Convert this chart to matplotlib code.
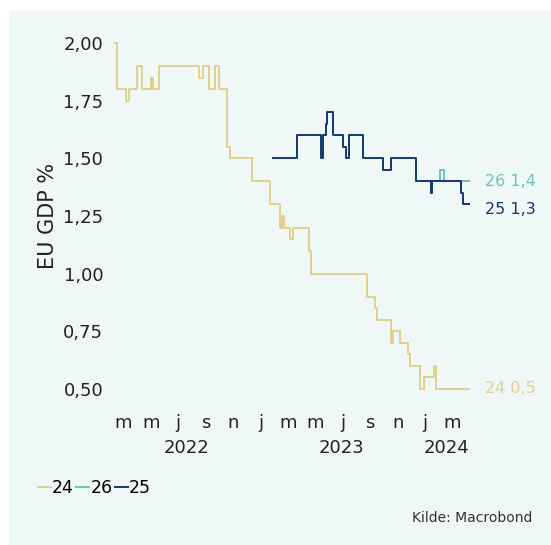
import matplotlib.pyplot as plt
from matplotlib.patches import Rectangle

# x = months since 1 Jan 2022, y = EU GDP forecast (%), changes drawn as steps
x24 = [1.9, 2.0, 2.69, 2.94, 3.49, 3.82, 4.49, 4.68, 5.07, 8.01, 8.33, 8.77, 9.18, 9.47,
       10.04, 10.28, 11.91, 13.20, 13.93, 14.05, 14.24, 14.66, 14.90, 16.04, 16.17,
       20.26, 20.86, 21.03, 22.01, 22.15, 22.64, 23.29, 23.42, 24.15, 24.39, 25.12,
       25.29, 27.74]
y24 = [2.00, 1.80, 1.75, 1.80, 1.90, 1.80, 1.85, 1.80, 1.90, 1.85, 1.90, 1.80, 1.90, 1.80,
       1.55, 1.50, 1.40, 1.30, 1.20, 1.25, 1.20, 1.15, 1.20, 1.10, 1.00,
       0.90, 0.85, 0.80, 0.70, 0.75, 0.70, 0.65, 0.60, 0.50, 0.55, 0.60,
       0.50, 0.50]

x26 = [25.0, 25.61, 25.85, 27.74]
y26 = [1.40, 1.45, 1.40, 1.40]

x25 = [13.44, 15.15, 16.92, 17.09, 17.26, 17.36, 17.82, 18.55, 18.74, 18.99, 19.96,
       21.42, 22.01, 23.83, 24.93, 25.02, 27.12, 27.26, 27.74]
y25 = [1.50, 1.60, 1.50, 1.60, 1.65, 1.70, 1.60, 1.55, 1.50, 1.60, 1.50,
       1.45, 1.50, 1.40, 1.35, 1.40, 1.35, 1.30, 1.30]

month_pos = [2.5, 4.5, 6.5, 8.5, 10.5, 12.5, 14.5, 16.5, 18.5, 20.5, 22.5, 24.5, 26.5]
month_lbl = ["m", "m", "j", "s", "n", "j", "m", "m", "j", "s", "n", "j", "m"]
year_pos = [7.07, 18.4, 26.1]
year_lbl = ["2022", "2023", "2024"]
yticks = [0.5, 0.75, 1.0, 1.25, 1.5, 1.75, 2.0]

c24 = "#e2d08c"
c26 = "#6cc5b0"
c25 = "#13386b"
bg = "#eff8f7"

fig = plt.figure(figsize=(5.51, 5.45), dpi=100)
fig.patch.set_facecolor("white")
fig.patches.append(Rectangle((9 / 551, 0), 1, (545 - 11) / 545, transform=fig.transFigure,
                             facecolor=bg, edgecolor="none", zorder=-10))

ax = fig.add_axes([113 / 551, 1 - 395.9 / 545, 360 / 551, (395.9 - 36.1) / 545])
ax.set_facecolor("none")

ax.plot(x24, y24, drawstyle="steps-post", color=c24, lw=1.4, label="24")
ax.plot(x26, y26, drawstyle="steps-post", color=c26, lw=1.4, label="26")
ax.plot(x25, y25, drawstyle="steps-post", color=c25, lw=1.4, label="25")

ax.set_xlim(1.74, 28.0)
ax.set_ylim(0.47, 2.03)
for s in ax.spines.values():
    s.set_visible(False)

ax.set_yticks(yticks)
ax.set_yticklabels([f"{v:.2f}".replace(".", ",") for v in yticks])
ax.tick_params(axis="y", length=0, pad=7, labelsize=13, labelcolor="#222222")

ax.set_xticks(month_pos)
ax.set_xticklabels(month_lbl)
ax.set_xticks(year_pos, minor=True)
ax.set_xticklabels(year_lbl, minor=True)
ax.tick_params(axis="x", which="major", length=0, pad=13, labelsize=13, labelcolor="#222222")
ax.tick_params(axis="x", which="minor", length=0, pad=31, labelsize=13, labelcolor="#222222")

ax.set_ylabel("EU GDP %", fontsize=15, color="#222222", labelpad=4)

# end labels
ax.annotate("26 1,4", xy=(1, 1.40), xycoords=("axes fraction", "data"), xytext=(9, 0),
            textcoords="offset points", va="center", ha="left", fontsize=11.5, color=c26,
            annotation_clip=False)
ax.annotate("25 1,3", xy=(1, 1.28), xycoords=("axes fraction", "data"), xytext=(9, 0),
            textcoords="offset points", va="center", ha="left", fontsize=11.5, color=c25,
            annotation_clip=False)
ax.annotate("24 0,5", xy=(1, 0.50), xycoords=("axes fraction", "data"), xytext=(9, 0),
            textcoords="offset points", va="center", ha="left", fontsize=11.5, color=c24,
            annotation_clip=False)

fig.legend(loc="center left", bbox_to_anchor=(38 / 551, 1 - 488 / 545), ncol=3, frameon=False,
           handlelength=0.75, handletextpad=0.05, columnspacing=0.15, fontsize=12.5,
           borderaxespad=0, borderpad=0)

fig.text(532 / 551, 1 - 518 / 545, "Kilde: Macrobond", ha="right", va="center",
         fontsize=10, color="#333333")

fig.savefig("out.png", dpi=100)
